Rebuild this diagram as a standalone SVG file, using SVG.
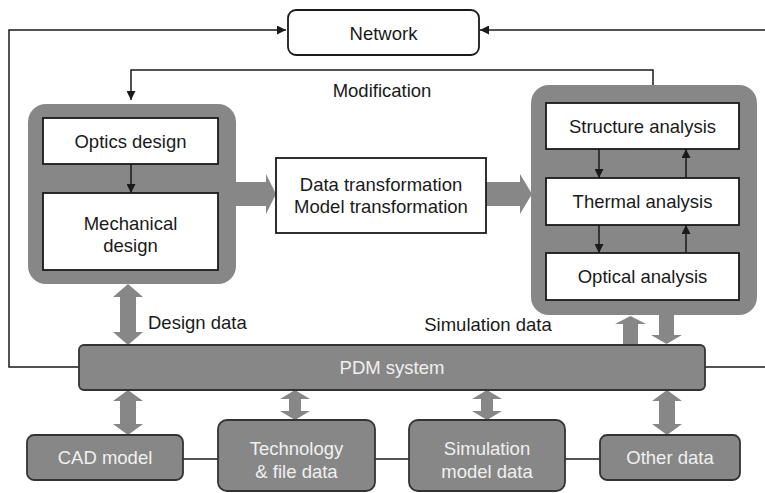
<svg xmlns="http://www.w3.org/2000/svg" width="765" height="493" viewBox="0 0 765 493">
<defs>
<style>
text{font-family:"Liberation Sans",Arial,sans-serif;font-size:18.5px;fill:#1a1a1a;text-anchor:middle}
.lt{fill:#f0f0f0}
.wb{fill:#fff;stroke:#1a1a1a;stroke-width:1.8}
.gb{fill:#878787}
.db{fill:#878787;stroke:#333;stroke-width:1.8}
.ln{fill:none;stroke:#1a1a1a;stroke-width:1.5}
.fa{fill:#878787}
</style>
<marker id="ah" viewBox="0 0 10 10" refX="10" refY="5" markerWidth="9" markerHeight="9" markerUnits="userSpaceOnUse" orient="auto">
<path d="M0,0 L10,5 L0,10 z" fill="#1a1a1a"/>
</marker>
</defs>
<rect width="765" height="493" fill="#fff"/>
<g id="connectors">
<polyline class="ln" points="79,367 9,367 9,30 286,30" marker-end="url(#ah)"/>
<polyline class="ln" points="705,367 765,367"/>
<polyline class="ln" points="765,30 480,30" marker-end="url(#ah)"/>
<polyline class="ln" points="653,85 653,70 131,70 131,100" marker-end="url(#ah)"/>
<path class="fa" d="M236,182 L266,182 L266,174 L276,194 L266,214 L266,206 L236,206 z"/>
<path class="fa" d="M486,182 L520,182 L520,174 L532,194 L520,214 L520,206 L486,206 z"/>
<path class="fa" d="M128,284 L143,297 L136,297 L136,332 L143,332 L128,345 L113,332 L120,332 L120,297 L113,297 z"/>
<path class="fa" d="M630.5,316 L646,324 L638,324 L638,345 L623,345 L623,324 L615,324 z"/>
<path class="fa" d="M666.5,344 L682,335 L674,335 L674,315 L659,315 L659,335 L651,335 z"/>
<path class="fa" d="M128,390 L143,401 L136,401 L136,424 L143,424 L128,435 L113,424 L120,424 L120,401 L113,401 z"/>
<path class="fa" d="M295,390 L310,399 L301,399 L301,411 L310,411 L295,420 L280,411 L289,411 L289,399 L280,399 z"/>
<path class="fa" d="M487,390 L502,399 L493,399 L493,411 L502,411 L487,420 L472,411 L481,411 L481,399 L472,399 z"/>
<path class="fa" d="M667,390 L682,401 L675,401 L675,424 L682,424 L667,435 L652,424 L659,424 L659,401 L652,401 z"/>
<line class="ln" x1="183" y1="459" x2="218" y2="459"/>
<line class="ln" x1="375" y1="459" x2="409" y2="459"/>
<line class="ln" x1="565" y1="459" x2="600" y2="459"/>
</g>
<g id="network">
<rect class="wb" x="288" y="10" width="191" height="45" rx="8"/>
<text x="383.5" y="39.5">Network</text>
</g>
<g id="modification-label">
<text x="382" y="97">Modification</text>
</g>
<g id="design-group">
<rect class="gb" x="28" y="104" width="208" height="180" rx="18"/>
<line class="ln" x1="131" y1="164" x2="131" y2="193" marker-end="url(#ah)"/>
</g>
<g id="optics-design">
<rect class="wb" x="43" y="118" width="175" height="46"/>
<text x="130.5" y="148">Optics design</text>
</g>
<g id="mechanical-design">
<rect class="wb" x="43" y="193" width="175" height="77"/>
<text x="130.5" y="230">Mechanical</text>
<text x="130.5" y="252">design</text>
</g>
<g id="transformation">
<rect class="wb" x="276" y="158" width="210" height="75"/>
<text x="381" y="191">Data transformation</text>
<text x="381" y="213">Model transformation</text>
</g>
<g id="analysis-group">
<rect class="gb" x="531" y="85" width="226" height="230" rx="18"/>
<line class="ln" x1="599" y1="149" x2="599" y2="178" marker-end="url(#ah)"/>
<line class="ln" x1="599" y1="225" x2="599" y2="253" marker-end="url(#ah)"/>
<line class="ln" x1="686" y1="178" x2="686" y2="149" marker-end="url(#ah)"/>
<line class="ln" x1="686" y1="253" x2="686" y2="225" marker-end="url(#ah)"/>
</g>
<g id="structure-analysis">
<rect class="wb" x="546" y="103" width="193" height="46"/>
<text x="642.5" y="133">Structure analysis</text>
</g>
<g id="thermal-analysis">
<rect class="wb" x="546" y="178" width="193" height="47"/>
<text x="642.5" y="208">Thermal analysis</text>
</g>
<g id="optical-analysis">
<rect class="wb" x="546" y="253" width="193" height="47"/>
<text x="642.5" y="283">Optical analysis</text>
</g>
<g id="labels">
<text x="148" y="329" style="text-anchor:start">Design data</text>
<text x="488" y="331">Simulation data</text>
</g>
<g id="pdm">
<rect class="db" x="79" y="345" width="626" height="45" rx="5"/>
<text class="lt" x="392" y="374">PDM system</text>
</g>
<g id="cad-model">
<rect class="db" x="27" y="435" width="156" height="45" rx="7"/>
<text class="lt" x="105" y="464">CAD model</text>
</g>
<g id="technology">
<rect class="db" x="218" y="420" width="157" height="71" rx="9"/>
<text class="lt" x="296.5" y="455">Technology</text>
<text class="lt" x="296.5" y="478">&amp; file data</text>
</g>
<g id="simulation-model">
<rect class="db" x="409" y="420" width="156" height="71" rx="9"/>
<text class="lt" x="487" y="455">Simulation</text>
<text class="lt" x="487" y="478">model data</text>
</g>
<g id="other-data">
<rect class="db" x="600" y="435" width="140" height="45" rx="7"/>
<text class="lt" x="670" y="464">Other data</text>
</g>
</svg>
